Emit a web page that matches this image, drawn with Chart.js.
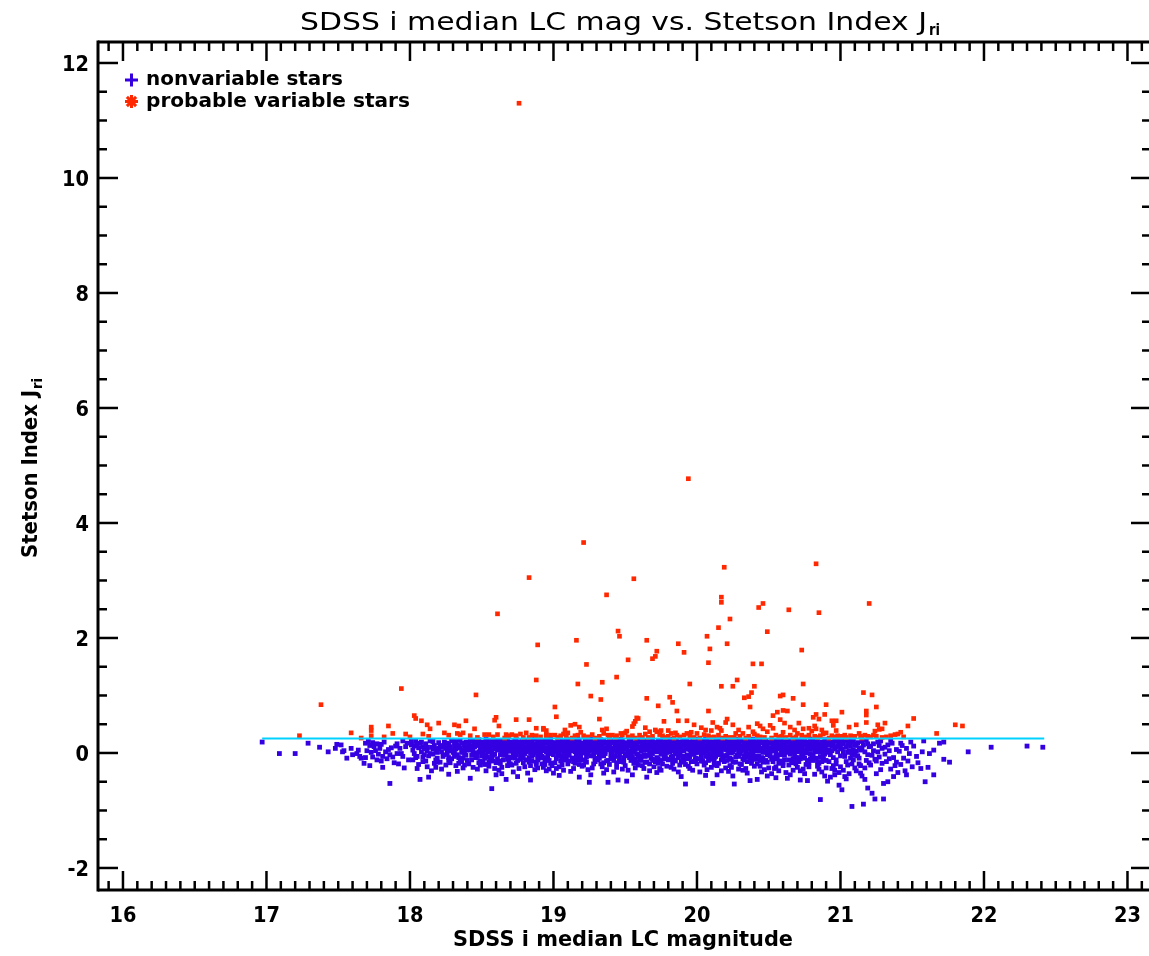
<!DOCTYPE html>
<html lang="en">
<head>
    <meta charset="UTF-8">
    <title>SDSS i median LC mag vs. Stetson Index</title>
    <script src="https://cdn.jsdelivr.net/npm/chart.js"></script>
    <style>
        html, body { margin: 0; padding: 0; background: #fff; }
        canvas { display: block; }
    </style>
</head>
<body>
    <canvas id="stetsonChart" width="1149" height="956"></canvas>
    <script>
        // axis labels
        const xTickLabels = ['16', '17', '18', '19', '20', '21', '22', '23'];
        const yTickLabels = ['-2', '0', '2', '4', '6', '8', '10', '12'];

        // cut line J = 0.25 over the magnitude range of the sample
        const cutLine = [[16.97, 0.25], [22.42, 0.25]];

        // nonvariable stars [mag, J]
        const nonvarBright = [
            [16.97,.19],[17.09,-.01],[17.20,-.01],[17.29,.17],[17.37,.10],[17.43,.02],[17.48,.08],[17.49,.15],[17.52,.14],[17.53,.02],
            [17.54,.04],[17.56,-.09],[17.59,.08],[17.60,-.03],[17.63,-.01],[17.64,.05],[17.65,-.06],[17.66,-.09],[17.68,-.18],
            [17.69,.17],[17.71,.20],[17.72,.13],[17.74,.18],[17.75,.11],[17.77,.16],[17.79,.08],[17.80,.15],[17.82,.19],[17.70,.04],
            [17.73,.01],[17.76,.04],[17.78,-.02],[17.81,-.06],[17.83,.02],[17.85,.06],[17.87,.09],[17.69,-.08],[17.74,-.07],[17.77,-.12],
            [17.80,-.14],[17.84,-.10],[17.86,-.03],[17.88,-.07],[17.81,-.25],[17.86,-.53],[17.72,-.22],[17.89,-.17],[17.90,.12],[17.91,-.01],
            [17.93,.08],[17.94,-.01],[17.95,-.06],[17.97,.11],[17.98,.17],[17.92,-.19],[17.96,-.26],[17.99,-.12],[17.95,.21],[17.91,.16],
            [18.01,.14],[18.02,.05],[18.03,-.01],[18.05,-.06],[18.06,.09],[18.07,.17],[18.08,.02],[18.09,.11],[18.10,-.03],[18.04,.20],
            [18.02,-.12],[18.06,-.20],[18.05,-.27],[18.07,-.46],[18.09,-.15],[18.01,.21],[18.08,.19],[18.03,.12],[18.10,.07],[18.04,-.08],
            [18.11,.16],[18.12,.04],[18.13,-.05],[18.14,.21],[18.15,.10],[18.16,-.02],[18.17,.13],[18.18,.06],[18.19,-.09],[18.20,.18],
            [18.11,-.14],[18.12,-.24],[18.15,-.31],[18.17,-.18],[18.19,.01],[18.12,.10],[18.14,-.01],[18.16,.20],[18.18,-.12],[18.20,.08],
            [18.13,-.42],[18.18,-.25],
            [18.21,.13],[18.22,.02],[18.23,-.06],[18.24,.19],[18.25,.08],[18.26,-.01],[18.27,.15],[18.28,.04],[18.29,-.10],[18.30,.21],
            [18.21,-.16],[18.23,.10],[18.25,-.21],[18.26,.17],[18.27,-.08],[18.28,.11],[18.29,.22],[18.22,-.28],[18.24,-.03],[18.26,.06],
            [18.28,-.17],[18.30,.01],[18.27,-.37],
            [18.31,.18],[18.32,.07],[18.33,-.03],[18.34,.12],[18.35,.22],[18.36,.01],[18.37,-.09],[18.38,.15],[18.39,.05],[18.40,-.13],
            [18.31,-.06],[18.32,.20],[18.33,-.32],[18.34,-.18],[18.35,.09],[18.36,.17],[18.37,.04],[18.38,-.21],[18.39,.19],[18.40,.10],
            [18.31,.03],[18.33,.14],[18.35,-.11],[18.37,-.26],[18.39,-.04],[18.36,-.15],[18.32,-.22],[18.38,-.01],
            [18.41,.16],[18.42,.05],[18.43,-.04],[18.44,.21],[18.45,.11],[18.46,-.08],[18.47,.14],[18.48,.02],[18.49,-.14],[18.50,.19],
            [18.41,-.19],[18.42,-.44],[18.43,.08],[18.44,-.25],[18.45,.18],[18.46,.00],[18.47,-.28],[18.48,.23],[18.49,.07],[18.50,-.05],
            [18.41,.10],[18.43,-.12],[18.45,-.01],[18.47,.20],[18.49,-.21],[18.44,.03],[18.46,.13],[18.48,-.17],[18.50,.12],[18.42,.22],
            [18.05,.13],[18.09,-.07],[18.16,.07],[18.19,-.16],[18.24,.14],[18.27,-.13],[18.31,.10],[18.34,-.08],[18.38,.08],[18.44,.13],
            [18.47,-.06],[18.49,.15]
        ];
        const nonvarCore = [
            [18.51,.17],[18.52,.06],[18.53,-.05],[18.54,.22],[18.55,.12],[18.56,-.11],[18.57,.03],[18.58,.19],[18.59,-.02],[18.60,.09],[18.51,-.16],[18.52,.14],[18.53,.24],[18.54,-.07],[18.55,-.23],[18.56,.08],[18.57,-.62],[18.58,-.14],[18.59,.15],[18.60,-.38],[18.51,.01],[18.53,.11],[18.55,.04],[18.57,.20],[18.59,-.27],[18.52,-.20],[18.54,.10],[18.56,.18],[18.58,-.04],[18.60,.21],[18.53,-.31],[18.57,-.09],
            [18.61,.20],[18.62,.08],[18.63,-.03],[18.64,.15],[18.65,-.12],[18.66,.02],[18.67,.23],[18.68,-.07],[18.69,.11],[18.70,-.19],[18.61,-.10],[18.62,.17],[18.63,.06],[18.64,-.25],[18.65,.21],[18.66,-.04],[18.67,-.46],[18.68,.13],[18.69,-.15],[18.70,.04],[18.61,.12],[18.63,-.18],[18.65,.09],[18.67,.00],[18.69,.19],[18.62,-.30],[18.64,.01],[18.66,.14],[18.68,.24],[18.70,-.08],[18.64,-.36],[18.68,-.22],
            [18.71,.14],[18.72,-.02],[18.73,.21],[18.74,.07],[18.75,-.13],[18.76,.18],[18.77,.03],[18.78,-.06],[18.79,.12],[18.80,.22],[18.71,-.21],[18.72,.10],[18.73,-.09],[18.74,.24],[18.75,.05],[18.76,-.27],[18.77,.16],[18.78,.09],[18.79,-.17],[18.80,-.01],[18.71,.04],[18.73,.13],[18.75,.19],[18.77,-.11],[18.79,.06],[18.72,-.33],[18.74,-.04],[18.76,.11],[18.78,.20],[18.80,-.24],[18.75,-.41],[18.79,.01],
            [18.81,.19],[18.82,.05],[18.83,-.08],[18.84,.13],[18.85,.23],[18.86,-.03],[18.87,.09],[18.88,-.16],[18.89,.17],[18.90,.02],[18.81,-.12],[18.82,.21],[18.83,.11],[18.84,-.22],[18.85,.04],[18.86,.15],[18.87,-.29],[18.88,.07],[18.89,-.05],[18.90,.20],[18.81,.08],[18.83,.16],[18.85,-.14],[18.87,.24],[18.89,.10],[18.82,-.35],[18.84,.00],[18.86,.12],[18.88,-.20],[18.90,-.09],[18.84,-.47],[18.89,-.26],
            [18.91,.22],[18.92,.10],[18.93,-.25],[18.94,.06],[18.95,-.10],[18.96,.17],[18.97,.01],[18.98,-.18],[18.99,.13],[19.00,-.35],[18.91,-.03],[18.92,.15],[18.93,.04],[18.94,-.14],[18.95,.20],[18.96,-.06],[18.97,.11],[18.98,.24],[18.99,-.22],[19.00,.08],[18.91,.12],[18.93,.18],[18.95,.02],[18.97,-.28],[18.99,.05],[18.92,-.19],[18.94,.21],[18.96,.09],[18.98,-.01],[19.00,.16],[18.95,-.31],[18.98,.13],[18.93,-.08],
            [19.01,.18],[19.02,.07],[19.03,-.04],[19.04,.21],[19.05,.12],[19.06,-.13],[19.07,.02],[19.08,.16],[19.09,-.08],[19.10,.23],[19.01,-.17],[19.02,.13],[19.03,.09],[19.04,-.24],[19.05,.19],[19.06,.05],[19.07,-.30],[19.08,-.02],[19.09,.11],[19.10,-.19],[19.01,.03],[19.03,.22],[19.05,-.06],[19.07,.14],[19.09,.20],[19.02,-.27],[19.04,.01],[19.06,.17],[19.08,.08],[19.10,.04],[19.04,-.39],[19.08,-.12],[19.06,-.21],
            [19.11,.20],[19.12,.04],[19.13,-.09],[19.14,.14],[19.15,.23],[19.16,-.03],[19.17,.10],[19.18,-.20],[19.19,.17],[19.20,.06],[19.11,-.14],[19.12,.18],[19.13,.08],[19.14,-.27],[19.15,.02],[19.16,.12],[19.17,-.12],[19.18,.21],[19.19,-.06],[19.20,.15],[19.11,.09],[19.13,.15],[19.15,-.18],[19.17,.24],[19.19,.00],[19.12,-.32],[19.14,.05],[19.16,.19],[19.18,.07],[19.20,-.23],[19.14,-.09],[19.18,-.42],[19.16,-.01],
            [19.21,.15],[19.22,.03],[19.23,-.07],[19.24,.22],[19.25,.10],[19.26,-.38],[19.27,.05],[19.28,.18],[19.29,-.15],[19.30,.12],[19.21,-.21],[19.22,.20],[19.23,.09],[19.24,-.02],[19.25,-.51],[19.26,.16],[19.27,-.26],[19.28,.01],[19.29,.23],[19.30,-.10],[19.21,.07],[19.23,.17],[19.25,.03],[19.27,.13],[19.29,.06],[19.22,-.13],[19.24,-.29],[19.26,.24],[19.28,-.05],[19.30,.19],[19.24,.11],[19.28,-.19],[19.22,.00],
            [19.31,.21],[19.32,.08],[19.33,-.05],[19.34,.13],[19.35,-.17],[19.36,.02],[19.37,.19],[19.38,-.51],[19.39,.06],[19.40,-.09],[19.31,-.12],[19.32,.16],[19.33,.11],[19.34,-.24],[19.35,.22],[19.36,-.01],[19.37,.07],[19.38,.14],[19.39,-.20],[19.40,.18],[19.31,.04],[19.33,.23],[19.35,.09],[19.37,-.29],[19.39,.12],[19.32,-.03],[19.34,.01],[19.36,.17],[19.38,-.13],[19.40,.05],[19.35,-.35],[19.39,.24],[19.33,-.19],
            [19.41,.17],[19.42,.05],[19.43,-.06],[19.44,.20],[19.45,-.47],[19.46,.11],[19.47,-.14],[19.48,.02],[19.49,.15],[19.50,-.22],[19.41,-.10],[19.42,.22],[19.43,.09],[19.44,-.17],[19.45,.13],[19.46,-.03],[19.47,.24],[19.48,-.28],[19.49,.07],[19.50,.18],[19.41,.01],[19.43,.14],[19.45,.04],[19.47,.10],[19.49,-.08],[19.42,-.33],[19.44,.06],[19.46,.19],[19.48,.12],[19.50,-.01],[19.44,-.25],[19.48,.21],[19.46,-.15],
            [19.51,.16],[19.52,.03],[19.53,-.08],[19.54,.21],[19.55,.10],[19.56,-.18],[19.57,.06],[19.58,.14],[19.59,-.04],[19.60,.23],[19.51,-.49],[19.52,.12],[19.53,.19],[19.54,-.13],[19.55,.01],[19.56,.08],[19.57,-.26],[19.58,.20],[19.59,.11],[19.60,-.11],[19.51,.07],[19.53,.24],[19.55,-.07],[19.57,.17],[19.59,-.21],[19.52,-.30],[19.54,.04],[19.56,.13],[19.58,-.02],[19.60,.09],[19.55,-.38],[19.58,-.16],[19.53,.00],
            [19.61,.19],[19.62,.07],[19.63,-.03],[19.64,.15],[19.65,-.16],[19.66,.22],[19.67,.01],[19.68,-.09],[19.69,.12],[19.70,-.24],[19.61,-.13],[19.62,.17],[19.63,.10],[19.64,-.06],[19.65,.05],[19.66,.13],[19.67,-.31],[19.68,.20],[19.69,-.01],[19.70,.09],[19.61,.03],[19.63,.21],[19.65,.14],[19.67,-.19],[19.69,.24],[19.62,-.22],[19.64,.08],[19.66,-.04],[19.68,.11],[19.70,.18],[19.65,-.42],[19.69,-.11],[19.63,-.27],
            [19.71,.14],[19.72,.02],[19.73,-.10],[19.74,.20],[19.75,.08],[19.76,-.19],[19.77,.16],[19.78,-.04],[19.79,.11],[19.80,.23],[19.71,-.15],[19.72,.18],[19.73,.06],[19.74,-.27],[19.75,.21],[19.76,.00],[19.77,-.08],[19.78,.13],[19.79,-.23],[19.80,.04],[19.71,.09],[19.73,.22],[19.75,-.02],[19.77,.10],[19.79,.17],[19.72,-.34],[19.74,.05],[19.76,.15],[19.78,.24],[19.80,-.12],[19.75,-.30],[19.79,.01],[19.73,-.18],
            [19.81,.18],[19.82,.06],[19.83,-.05],[19.84,.13],[19.85,-.14],[19.86,.21],[19.87,.03],[19.88,-.21],[19.89,.10],[19.90,-.08],[19.81,-.11],[19.82,.15],[19.83,.09],[19.84,-.28],[19.85,.22],[19.86,-.02],[19.87,.17],[19.88,.07],[19.89,-.16],[19.90,.14],[19.81,.02],[19.83,.24],[19.85,.11],[19.87,-.33],[19.89,.19],[19.82,-.25],[19.84,.04],[19.86,.12],[19.88,-.04],[19.90,.20],[19.85,.01],[19.89,-.41],[19.83,-.18],
            [19.91,.20],[19.92,-.54],[19.93,-.04],[19.94,.16],[19.95,.05],[19.96,-.15],[19.97,.22],[19.98,.09],[19.99,-.09],[20.00,.13],[19.91,-.13],[19.92,.17],[19.93,.07],[19.94,-.23],[19.95,.19],[19.96,.02],[19.97,-.30],[19.98,.14],[19.99,.24],[20.00,-.19],[19.91,.04],[19.93,.21],[19.95,-.07],[19.97,.11],[19.99,.01],[19.92,-.20],[19.94,.08],[19.96,.18],[19.98,-.02],[20.00,.06],[19.95,-.27],[19.99,-.12],[19.93,.12],
            [20.01,.17],[20.02,.04],[20.03,-.07],[20.04,.22],[20.05,.10],[20.06,-.17],[20.07,.14],[20.08,-.02],[20.09,.07],[20.10,-.25],[20.01,-.10],[20.02,.19],[20.03,.12],[20.04,-.14],[20.05,.01],[20.06,.15],[20.07,-.29],[20.08,.23],[20.09,-.06],[20.10,.11],[20.01,.06],[20.03,.20],[20.05,-.21],[20.07,.09],[20.09,.16],[20.02,-.33],[20.04,.02],[20.06,.24],[20.08,.13],[20.10,-.01],[20.06,-.39],[20.09,-.11],[20.03,.00],
            [20.11,.19],[20.12,.05],[20.13,-.06],[20.14,.14],[20.15,-.18],[20.16,.21],[20.17,.02],[20.18,-.11],[20.19,.10],[20.20,-.26],[20.11,-.53],[20.12,.16],[20.13,.08],[20.14,-.22],[20.15,.23],[20.16,-.03],[20.17,.12],[20.18,.18],[20.19,-.15],[20.20,.06],[20.11,.01],[20.13,.22],[20.15,.09],[20.17,-.31],[20.19,.15],[20.12,-.14],[20.14,.03],[20.16,.11],[20.18,-.05],[20.20,.20],[20.14,-.38],[20.18,.24],[20.12,-.21],
            [20.21,.16],[20.22,.03],[20.23,-.09],[20.24,.20],[20.25,.08],[20.26,-.54],[20.27,.13],[20.28,-.04],[20.29,.17],[20.30,-.19],[20.21,-.13],[20.22,.22],[20.23,.10],[20.24,-.25],[20.25,.02],[20.26,.14],[20.27,-.07],[20.28,.21],[20.29,-.28],[20.30,.07],[20.21,.05],[20.23,.18],[20.25,-.16],[20.27,.24],[20.29,.11],[20.22,-.32],[20.24,.00],[20.26,.12],[20.28,.09],[20.30,-.01],[20.25,-.40],[20.29,.04],[20.23,-.22],
            [20.31,.21],[20.32,.06],[20.33,-.05],[20.34,.15],[20.35,-.15],[20.36,.10],[20.37,-.48],[20.38,.01],[20.39,.18],[20.40,-.10],[20.31,-.20],[20.32,.13],[20.33,.08],[20.34,-.27],[20.35,.23],[20.36,-.02],[20.37,.16],[20.38,-.18],[20.39,.04],[20.40,.12],[20.31,.03],[20.33,.19],[20.35,.11],[20.37,-.08],[20.39,.24],[20.32,-.30],[20.34,.07],[20.36,.20],[20.38,.14],[20.40,-.23],[20.35,-.35],[20.39,-.04],[20.33,-.12],
            [20.41,.17],[20.42,-.46],[20.43,-.06],[20.44,.22],[20.45,.09],[20.46,-.16],[20.47,.13],[20.48,.02],[20.49,-.40],[20.50,.19],[20.41,-.11],[20.42,.15],[20.43,.06],[20.44,-.23],[20.45,.20],[20.46,.01],[20.47,-.29],[20.48,.11],[20.49,-.03],[20.50,.08],[20.41,.04],[20.43,.24],[20.45,-.08],[20.47,.16],[20.49,.12],[20.42,-.19],[20.44,.03],[20.46,.18],[20.48,-.13],[20.50,-.26],[20.45,-.33],[20.48,.21],[20.43,.10],
            [20.51,.18],[20.52,.04],[20.53,-.08],[20.54,.14],[20.55,-.43],[20.56,.21],[20.57,.07],[20.58,-.14],[20.59,.11],[20.60,-.22],[20.51,-.05],[20.52,.17],[20.53,.10],[20.54,-.27],[20.55,.02],[20.56,.13],[20.57,-.18],[20.58,.23],[20.59,-.02],[20.60,.06],[20.51,.09],[20.53,.20],[20.55,.15],[20.57,-.31],[20.59,.19],[20.52,-.36],[20.54,.05],[20.56,-.10],[20.58,.12],[20.60,.24],[20.55,-.24],[20.59,.01],[20.53,-.15],
            [20.61,.15],[20.62,.03],[20.63,-.44],[20.64,.20],[20.65,.09],[20.66,-.17],[20.67,.12],[20.68,-.04],[20.69,.18],[20.70,-.25],[20.61,-.12],[20.62,.22],[20.63,.07],[20.64,-.21],[20.65,.16],[20.66,.01],[20.67,-.30],[20.68,.10],[20.69,-.08],[20.70,.14],[20.61,.05],[20.63,.19],[20.65,-.02],[20.67,.24],[20.69,.08],[20.62,-.34],[20.64,.02],[20.66,.13],[20.68,-.15],[20.70,.21],[20.65,-.38],[20.69,-.19],[20.63,.11],
            [20.71,.19],[20.72,-.47],[20.73,-.07],[20.74,.15],[20.75,.04],[20.76,-.20],[20.77,-.48],[20.78,.11],[20.79,-.11],[20.80,.22],[20.71,-.15],[20.72,.13],[20.73,.08],[20.74,-.28],[20.75,.21],[20.76,.00],[20.77,.17],[20.78,-.24],[20.79,.06],[20.80,-.04],[20.71,.02],[20.73,.23],[20.75,-.09],[20.77,.10],[20.79,.16],[20.72,-.31],[20.74,.05],[20.76,.14],[20.78,-.17],[20.80,.09],[20.75,-.36],[20.79,.24],[20.73,-.02],
            [20.81,.16],[20.82,.03],[20.83,-.09],[20.84,.20],[20.85,-.18],[20.86,-.81],[20.87,.12],[20.88,-.05],[20.89,.18],[20.90,-.26],[20.81,-.13],[20.82,.22],[20.83,.07],[20.84,-.23],[20.85,.14],[20.86,.01],[20.87,-.33],[20.88,.10],[20.89,-.40],[20.90,.06],[20.81,.09],[20.83,.19],[20.85,.05],[20.87,-.15],[20.89,.23],[20.82,-.37],[20.84,.04],[20.86,.15],[20.88,-.11],[20.90,.20],[20.85,-.28],[20.89,-.02],[20.83,.12]
        ];
        // extra stars filling the densest part of the band
        const nonvarCoreFill = [
            [18.51,.10],[18.52,-.09],[18.53,.19],[18.54,.02],[18.55,-.15],[18.56,.15],[18.57,-.02],[18.58,.12],[18.59,.07],[18.60,-.17],
            [18.61,.05],[18.62,-.14],[18.63,.21],[18.64,.09],[18.65,-.02],[18.66,.18],[18.67,.07],[18.68,-.11],[18.69,.03],[18.70,.14],
            [18.71,-.07],[18.72,.19],[18.73,.01],[18.74,-.18],[18.75,.12],[18.76,.04],[18.77,-.03],[18.78,.15],[18.79,-.09],[18.80,.10],
            [18.81,.02],[18.82,.14],[18.83,-.16],[18.84,.20],[18.85,-.06],[18.86,.08],[18.87,.16],[18.88,.01],[18.89,-.12],[18.90,.12],
            [18.91,.06],[18.92,-.06],[18.93,.13],[18.94,-.20],[18.95,.09],[18.96,.22],[18.97,-.13],[18.98,.04],[18.99,.18],[19.00,-.03],
            [19.01,.09],[19.02,-.10],[19.03,.16],[19.04,.06],[19.05,-.14],[19.06,.11],[19.07,.20],[19.08,-.06],[19.09,.02],[19.10,.13],
            [19.11,-.04],[19.12,.11],[19.13,.21],[19.14,-.15],[19.15,.08],[19.16,.03],[19.17,-.08],[19.18,.14],[19.19,.09],[19.20,-.12],
            [19.21,.02],[19.22,.12],[19.23,-.16],[19.24,.06],[19.25,.19],[19.26,-.05],[19.27,.09],[19.28,.14],[19.29,-.09],[19.30,.01],
            [19.31,.13],[19.32,-.09],[19.33,.04],[19.34,.18],[19.35,-.05],[19.36,.09],[19.37,-.14],[19.38,.06],[19.39,.16],[19.40,-.02],
            [19.41,.08],[19.42,-.13],[19.43,.19],[19.44,.02],[19.45,.09],[19.46,-.08],[19.47,.05],[19.48,.17],[19.49,-.16],[19.50,.11],
            [19.51,.11],[19.52,-.05],[19.53,.14],[19.54,-.02],[19.55,.18],[19.56,.02],[19.57,-.11],[19.58,.08],[19.59,.19],[19.60,-.06],
            [19.61,-.07],[19.62,.12],[19.63,.05],[19.64,-.16],[19.65,.19],[19.66,.08],[19.67,-.04],[19.68,.15],[19.69,.04],[19.70,-.13],
            [19.71,.05],[19.72,-.08],[19.73,.15],[19.74,.11],[19.75,-.13],[19.76,.19],[19.77,.03],[19.78,-.10],[19.79,.07],[19.80,.16],
            [19.81,.11],[19.82,-.07],[19.83,.18],[19.84,-.12],[19.85,.07],[19.86,.16],[19.87,-.08],[19.88,.12],[19.89,.03],[19.90,-.14],
            [19.91,-.06],[19.92,.08],[19.93,.17],[19.94,-.10],[19.95,.12],[19.96,-.02],[19.97,.06],[19.98,-.15],[19.99,.19],[20.00,.02],
            [20.01,.01],[20.02,.13],[20.03,-.14],[20.04,.08],[20.05,.17],[20.06,-.06],[20.07,.04],[20.08,-.13],[20.09,.21],[20.10,.07],
            [20.11,.10],[20.12,-.08],[20.13,.15],[20.14,-.01],[20.15,.05],[20.16,.17],[20.17,-.12],[20.18,.08],[20.19,.21],[20.20,-.05],
            [20.21,-.04],[20.22,.09],[20.23,.14],[20.24,-.11],[20.25,.18],[20.26,.05],[20.27,-.16],[20.28,.14],[20.29,-.06],[20.30,.12],
            [20.31,.09],[20.32,-.10],[20.33,.16],[20.34,.01],[20.35,-.07],[20.36,.13],[20.37,.06],[20.38,-.12],[20.39,.10],[20.40,.20],
            [20.41,-.05],[20.42,.10],[20.43,.18],[20.44,-.13],[20.45,.04],[20.46,-.09],[20.47,.07],[20.48,.16],[20.49,-.16],[20.50,.02],
            [20.51,.02],[20.52,-.11],[20.53,.15],[20.54,.08],[20.55,-.06],[20.56,.17],[20.57,.12],[20.58,-.03],[20.59,.06],[20.60,-.16],
            [20.61,-.04],[20.62,.11],[20.63,.01],[20.64,-.12],[20.65,.20],[20.66,.07],[20.67,-.10],[20.68,.17],[20.69,.03],[20.70,-.08],
            [20.71,.08],[20.72,-.10],[20.73,.14],[20.74,-.06],[20.75,.17],[20.76,.06],[20.77,-.13],[20.78,.19],[20.79,-.02],[20.80,.13],
            [20.81,-.06],[20.82,.12],[20.83,.02],[20.84,-.15],[20.85,.09],[20.86,-.07],[20.87,.19],[20.88,.04],[20.89,.11],[20.90,-.13]
        ];
        const nonvarFaint = [
            [20.91,.17],[20.92,.05],[20.93,-.42],[20.94,.12],[20.95,-.08],[20.96,.21],[20.97,-.19],[20.98,.02],[20.99,-.56],[21.00,.09],[20.91,-.49],[20.92,.14],[20.93,-.03],[20.94,-.27],[20.95,.18],[20.96,.07],[20.97,-.12],[20.98,.23],[20.99,-.34],[21.00,-.05],[20.91,.01],[20.93,.19],[20.95,-.22],[20.97,.10],[20.99,.15],[20.92,-.15],[20.94,.04],[20.96,-.30],[20.98,.13],[21.00,.20],[20.96,-.38],[21.00,-.24],
            [21.01,-.64],[21.02,.16],[21.03,-.06],[21.04,.10],[21.05,-.21],[21.06,.04],[21.07,.19],[21.08,-.93],[21.09,-.12],[21.10,.13],[21.01,.07],[21.02,-.30],[21.03,.22],[21.04,-.15],[21.05,.01],[21.06,-.36],[21.07,.12],[21.08,-.02],[21.09,.20],[21.10,-.26],[21.01,.18],[21.03,-.41],[21.05,.15],[21.07,-.09],[21.09,.05],[21.02,.02],[21.04,-.45],[21.06,.21],[21.08,-.19],[21.10,-.04],
            [21.11,.15],[21.12,-.05],[21.13,.09],[21.14,-.22],[21.15,.20],[21.16,-.89],[21.17,.02],[21.18,-.13],[21.19,-.61],[21.20,.11],[21.11,-.31],[21.12,.18],[21.13,-.09],[21.14,.05],[21.15,-.40],[21.16,.14],[21.17,-.26],[21.18,.22],[21.19,-.03],[21.20,-.17],[21.11,.03],[21.13,-.19],[21.15,.08],[21.17,-.46],[21.19,.16],[21.14,-.35],
            [21.21,.12],[21.22,-.70],[21.23,.04],[21.24,-.80],[21.25,-.14],[21.26,.19],[21.27,-.07],[21.28,-.29],[21.29,.08],[21.30,-.80],[21.21,-.21],[21.23,.16],[21.25,-.36],[21.27,.13],[21.29,-.18],[21.30,-.53],[21.22,-.04],[21.26,.02],[21.28,.21],[21.24,-.11],
            [21.31,.10],[21.32,-.15],[21.33,-.50],[21.34,.04],[21.35,-.28],[21.36,.17],[21.37,-.08],[21.38,-.22],[21.39,.06],[21.40,-.34],[21.31,-.02],[21.33,.14],[21.35,.22],[21.37,-.41],[21.39,-.16],[21.34,-.10],
            [21.41,.03],[21.42,-.20],[21.43,.13],[21.44,-.09],[21.45,-.31],[21.46,.08],[21.47,-.14],[21.48,-.01],[21.49,.19],[21.50,-.24],[21.42,.17],[21.46,-.38],
            [21.51,.12],[21.53,-.06],[21.54,-.17],[21.56,-.27],[21.57,.02],[21.58,.21],[21.59,-.50],[21.61,-.25],[21.62,-.01],[21.65,.05],
            [21.65,-.38],[21.69,.17],[21.72,.19],[21.72,-.11],[21.76,-.16],[21.89,.02],[22.05,.10],[22.30,.12],[22.41,.10]
        ];

        // probable variable stars [mag, J]
        const varNearCut = [
            [17.23,.30],[17.59,.35],[17.66,.26],[17.73,.30],[17.82,.28],[17.88,.34],[17.97,.33],[18.00,.28],[18.09,.33],[18.13,.29],
            [18.24,.35],[18.27,.31],[18.33,.34],[18.35,.32],[18.37,.35],[18.42,.30],[18.47,.27],[18.52,.32],[18.55,.32],[18.58,.28],
            [18.61,.32],[18.66,.26],[18.67,.32],[18.71,.32],[18.74,.30],[18.77,.33],[18.79,.27],[18.81,.35],[18.85,.31],[18.91,.28],
            [18.95,.32],[18.95,.30],[18.98,.31],[19.01,.31],[19.03,.27],[19.05,.30],[19.07,.33],[19.10,.35],[19.13,.26],[19.17,.31],
            [19.19,.36],[19.21,.30],[19.24,.28],[19.29,.26],[19.35,.34],[19.38,.31],[19.39,.27],[19.41,.31],[19.44,.30],[19.47,.34],
            [19.48,.31],[19.50,.35],[19.52,.28],[19.57,.26],[19.60,.31],[19.62,.27],[19.67,.37],[19.69,.29],[19.72,.37],[19.74,.32],
            [19.78,.27],[19.82,.34],[19.84,.26],[19.85,.35],[19.86,.31],[19.88,.28],[19.91,.31],[19.93,.34],[19.98,.27],[20.00,.34],
            [20.02,.26],[20.05,.32],[20.12,.28],[20.18,.26],[20.23,.27],[20.27,.34],[20.30,.29],[20.32,.34],[20.34,.26],[20.39,.37],
            [20.40,.33],[20.44,.28],[20.49,.37],[20.52,.26],[20.57,.28],[20.60,.36],[20.62,.27],[20.67,.26],[20.70,.34],[20.73,.31],
            [20.76,.28],[20.80,.38],[20.84,.27],[20.88,.33],[20.90,.35],[20.92,.26],[20.94,.30],[20.98,.30],[20.99,.28],[21.03,.31],
            [21.04,.27],[21.09,.29],[21.10,.29],[21.13,.34],[21.14,.29],[21.15,.26],[21.19,.29],[21.21,.28],[21.23,.31],[21.29,.27],
            [21.35,.30],[21.38,.32],[21.40,.33],[21.44,.28],[21.67,.34],
            [18.69,.30],[18.83,.27],[18.88,.30],[19.09,.28],[19.15,.30],[19.27,.32],[19.32,.29],[19.43,.27],[19.55,.30],[19.64,.33],
            [19.66,.27],[19.76,.30],[19.80,.29],[19.95,.29],[20.08,.30],[20.10,.27],[20.15,.31],[20.20,.29],[20.26,.27],[20.36,.29],
            [20.42,.30],[20.47,.27],[20.55,.31],[20.59,.29],[20.65,.31],[20.69,.28],[20.78,.31],[20.82,.29],[20.86,.30],[20.96,.28],
            [21.01,.29],[21.07,.30],[21.17,.31],[21.25,.29],[21.32,.28]
        ];
        const varScatter = [
            [17.38,.84],[17.73,.45],[17.73,.39],[17.85,.47],[18.03,.65],[18.04,.60],[18.08,.56],[18.12,.49],[18.14,.42],[18.20,.52],
            [18.31,.49],[18.34,.47],[18.39,.56],[18.45,.42],[18.46,1.01],[18.59,.57],[18.60,.62],[18.62,.47],[18.74,.58],[18.83,.58],
            [18.88,.43],[18.93,.41],[18.93,.43],[18.95,.39],[19.01,.80],[19.02,.63],[19.08,.40],[19.12,.48],[19.15,.50],[19.18,.45],
            [19.26,.99],[19.33,.93],[19.32,.59],[19.34,.40],[19.37,.42],[19.51,.38],[19.55,.46],[19.56,.51],[19.57,.55],[19.58,.61],
            [19.59,.60],[19.64,.44],[19.65,.95],[19.71,.40],[19.73,.82],[19.75,.39],[19.77,.55],[19.80,.39],[19.81,.97],[19.83,.88],
            [19.86,.73],[19.87,.56],[19.93,.56],[19.96,.36],[19.98,.49],[20.03,.44],[20.06,.40],[20.08,.73],[20.10,.39],[20.11,.53],
            [20.14,.45],[20.16,.43],[20.17,.39],[20.20,.53],[20.21,.59],[20.25,.49],[20.29,.40],[20.33,.96],[20.36,.98],[20.36,.45],
            [20.37,.80],[20.38,1.05],[20.42,.51],[20.44,.47],[20.46,.42],[20.51,.48],[20.53,.43],[20.53,.65],[20.56,.71],[20.58,.58],
            [20.58,.99],[20.60,1.01],[20.60,.74],[20.61,.52],[20.63,.73],[20.65,.45],[20.67,.95],[20.68,.40],[20.71,.52],[20.74,.84],
            [20.74,.42],[20.78,.43],[20.81,.62],[20.82,.47],[20.83,.67],[20.83,.42],[20.85,.59],[20.87,.40],[20.89,.67],[20.90,.84],
            [20.94,.56],[20.95,.48],[20.97,.56],[20.97,.39],[21.01,.71],[21.06,.45],[21.11,.49],[21.16,1.05],[21.18,.73],[21.18,.66],
            [21.18,.53],[21.22,1.01],[21.24,.38],[21.25,.80],[21.26,.49],[21.27,.41],[21.29,.42],[21.31,.52],[21.42,.36],[21.47,.47],
            [21.51,.60],[21.80,.49],[21.85,.47]
        ];
        const varOutliers = [
            [18.76,11.3],[19.94,4.77],[19.21,3.66],[18.83,3.05],[19.56,3.03],[20.19,3.23],[20.83,3.29],[19.37,2.75],[18.61,2.42],[20.17,2.71],
            [20.17,2.62],[20.43,2.53],[20.46,2.60],[20.64,2.49],[20.85,2.44],[21.20,2.60],[20.23,2.33],[20.15,2.18],[20.49,2.11],[19.45,2.12],
            [19.46,2.03],[18.89,1.88],[19.16,1.96],[19.65,1.96],[19.87,1.90],[20.07,2.03],[20.21,1.90],[20.09,1.81],[20.73,1.79],[19.72,1.77],
            [19.91,1.75],[19.71,1.68],[19.69,1.64],[19.52,1.62],[19.23,1.54],[20.08,1.57],[20.39,1.55],[20.45,1.55],[18.88,1.27],[19.17,1.20],
            [19.34,1.23],[19.44,1.32],[19.95,1.20],[20.17,1.16],[20.25,1.16],[20.28,1.27],[20.40,1.16],[20.74,1.20],[17.94,1.12]
        ];

        const toPoints = arr => arr.map(p => ({ x: p[0], y: p[1] }));

        const BLUE = 'rgb(52,0,226)';
        const RED = 'rgb(255,40,0)';
        const CYAN = 'rgb(0,210,255)';
        const FONT = '"DejaVu Sans", sans-serif';

        // draw text squeezed/stretched to a given width (IDL vector font is wide)
        function fitText(ctx, txt, x, y, size, width, weight) {
            ctx.font = (weight || 'normal') + ' ' + size + 'px ' + FONT;
            const w = ctx.measureText(txt).width;
            ctx.save();
            ctx.translate(x, y);
            ctx.scale(width / w, 1);
            ctx.textAlign = 'left';
            ctx.textBaseline = 'alphabetic';
            ctx.fillText(txt, 0, 0);
            ctx.restore();
        }

        function line(ctx, x1, y1, x2, y2) {
            ctx.beginPath();
            ctx.moveTo(x1, y1);
            ctx.lineTo(x2, y2);
            ctx.stroke();
        }

        const idlAxes = {
            id: 'idlAxes',
            afterDraw(chart) {
                const { ctx, chartArea: a, scales: { x, y } } = chart;
                const left = a.left, top = a.top, bottom = a.bottom, right = a.right + 2;
                ctx.save();
                ctx.strokeStyle = '#000';
                ctx.fillStyle = '#000';
                ctx.lineCap = 'butt';

                // frame
                ctx.lineWidth = 3;
                line(ctx, left, top - 1.5, left, bottom + 1.5);
                line(ctx, left, top, right, top);
                line(ctx, left, bottom, right, bottom);
                line(ctx, right, top, right, bottom);

                // x ticks: major every 1, minor every 0.1
                ctx.lineWidth = 2.5;
                const xMaj = xTickLabels.map(Number);
                for (let i = 159; i <= 231; i++) {
                    const v = i / 10;
                    const px = x.getPixelForValue(v);
                    if (px < left + 2 || px > right - 2) continue;
                    const len = (i % 10 === 0) ? 19 : 9;
                    line(ctx, px, bottom, px, bottom - len);
                    line(ctx, px, top, px, top + len);
                }
                // y ticks: major every 2, minor every 0.5
                const yMaj = yTickLabels.map(Number);
                for (let i = -4; i <= 24; i++) {
                    const v = i / 2;
                    const py = y.getPixelForValue(v);
                    if (py < top + 2 || py > bottom - 2) continue;
                    const len = (i % 4 === 0) ? 20 : 9;
                    line(ctx, left, py, left + len, py);
                    line(ctx, right, py, right - len, py);
                }

                // tick labels
                ctx.font = 'bold 22px ' + FONT;
                xTickLabels.forEach((lab, k) => {
                    const px = x.getPixelForValue(xMaj[k]);
                    const w = ctx.measureText(lab).width * 0.88;
                    fitText(ctx, lab, px - w / 2, 922, 22, w, 'bold');
                    ctx.font = 'bold 22px ' + FONT;
                });
                yTickLabels.forEach((lab, k) => {
                    const py = y.getPixelForValue(yMaj[k]);
                    const w = ctx.measureText(lab).width * 0.88;
                    fitText(ctx, lab, 89 - w, py + 8.5, 22, w, 'bold');
                    ctx.font = 'bold 22px ' + FONT;
                });

                // title
                fitText(ctx, 'SDSS i median LC mag vs. Stetson Index J', 300, 30, 24, 627, 'normal');
                fitText(ctx, 'ri', 929, 35, 15, 11, 'bold');

                // x axis title
                fitText(ctx, 'SDSS i median LC magnitude', 453, 946, 22, 340, 'bold');

                // y axis title (rotated)
                ctx.save();
                ctx.translate(37, 558);
                ctx.rotate(-Math.PI / 2);
                fitText(ctx, 'Stetson Index J', 0, 0, 22, 168, 'bold');
                fitText(ctx, 'ri', 169, 5, 14, 11, 'bold');
                ctx.restore();

                // legend
                ctx.strokeStyle = BLUE;
                ctx.lineWidth = 3;
                line(ctx, 125, 80, 138, 80);
                line(ctx, 131.5, 73.5, 131.5, 86.5);
                ctx.strokeStyle = RED;
                for (let k = 0; k < 4; k++) {
                    const ang = k * Math.PI / 4;
                    const dx = Math.cos(ang) * 6.5, dy = Math.sin(ang) * 6.5;
                    line(ctx, 131.5 - dx, 101.5 - dy, 131.5 + dx, 101.5 + dy);
                }
                ctx.fillStyle = '#000';
                fitText(ctx, 'nonvariable stars', 146, 85, 20, 197, 'bold');
                fitText(ctx, 'probable variable stars', 146, 107, 20, 264, 'bold');

                ctx.restore();
            }
        };

        new Chart(document.getElementById('stetsonChart').getContext('2d'), {
            type: 'scatter',
            data: {
                datasets: [
                    {
                        label: 'J = 0.25',
                        data: toPoints(cutLine),
                        showLine: true,
                        borderColor: CYAN,
                        borderWidth: 2,
                        pointRadius: 0
                    },
                    {
                        label: 'probable variable stars',
                        data: toPoints(varNearCut.concat(varScatter, varOutliers)),
                        pointStyle: 'rect',
                        pointRadius: 3.3,
                        borderWidth: 0,
                        backgroundColor: RED
                    },
                    {
                        label: 'nonvariable stars',
                        data: toPoints(nonvarBright.concat(nonvarCore, nonvarCoreFill, nonvarFaint)),
                        pointStyle: 'rect',
                        pointRadius: 3.4,
                        borderWidth: 0,
                        backgroundColor: BLUE
                    }
                ]
            },
            options: {
                responsive: false,
                animation: false,
                devicePixelRatio: 1,
                layout: { autoPadding: false, padding: { left: 98, top: 42, right: 0, bottom: 66 } },
                scales: {
                    x: { type: 'linear', min: 15.826, max: 23.15, display: false },
                    y: { type: 'linear', min: -2.383, max: 12.365, display: false }
                },
                plugins: {
                    legend: { display: false },
                    tooltip: { enabled: false }
                }
            },
            plugins: [idlAxes]
        });
    </script>
</body>
</html>
